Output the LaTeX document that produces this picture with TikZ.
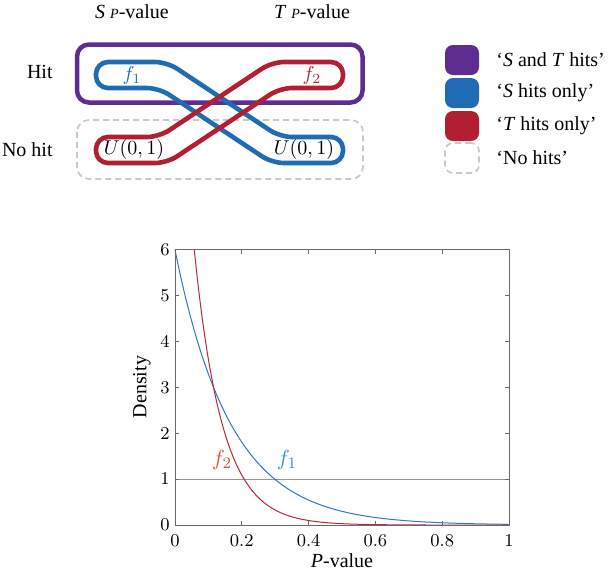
\documentclass[tikz,border=0pt]{standalone}
\usepackage[no-math]{fontspec}
\setmainfont{Liberation Serif}
\usepackage{tikz}

\definecolor{hitpurple}{RGB}{93,45,146}
\definecolor{hitblue}{RGB}{32,108,180}
\definecolor{hitred}{RGB}{178,30,50}
\definecolor{nohitgray}{RGB}{200,200,200}
\definecolor{curveblue}{RGB}{52,118,188}
\definecolor{curvered}{RGB}{186,40,58}
\definecolor{labelred}{RGB}{212,84,66}
\definecolor{labelblue}{RGB}{62,142,198}
\definecolor{axisgray}{RGB}{105,105,105}

\tikzset{
  bandline/.style={line width=2.3pt, rounded corners=6pt},
  legendbox/.style={minimum width=17pt, minimum height=15pt, rounded corners=4pt, inner sep=0pt},
  legendtext/.style={anchor=west, inner sep=0pt},
  ticklabel/.style={inner sep=0pt, font=\fontsize{9.5}{11}\selectfont}
}

\begin{document}
\begin{tikzpicture}[x=0.5pt,y=-0.5pt,font=\fontsize{10}{12}\selectfont]
\useasboundingbox (0,0) rectangle (614,570);

%column and row headings
\node (headS) at (132,12) {\textit{S} {\scriptsize\itshape P}-value};
\node (headT) at (312,12) {\textit{T} {\scriptsize\itshape P}-value};
\node[anchor=east,inner sep=0pt] (rowhit) at (53,72) {Hit};
\node[anchor=east,inner sep=0pt] (rownohit) at (53,150) {No hit};

%hit and no hit frames
\draw[hitpurple,line width=2.25pt,rounded corners=6pt] (77,44.5) rectangle (362.5,102.5);
\draw[nohitgray,line width=0.85pt,dash pattern=on 3pt off 2pt,rounded corners=6pt] (77,120) rectangle (363,179);

%S band and T band
\draw[hitblue,bandline] (130,62) -- (167,62) -- (280,137) -- (343,137) -- (343,163) -- (272,163) -- (159,88) -- (96,88) -- (96,62) -- (131,62);
\draw[hitred,bandline] (309,62) -- (272,62) -- (159,137) -- (96,137) -- (96,163) -- (167,163) -- (280,88) -- (343,88) -- (343,62) -- (308,62);

\node[hitblue] (bandf1) at (132,75) {$f_1$};
\node[hitred] (bandf2) at (312,75) {$f_2$};
\node (unifS) at (134,149) {$U(0,1)$};
\node (unifT) at (304,149) {$U(0,1)$};

%legend
\node[legendbox,fill=hitpurple] (legboth) at (462,60) {};
\node[legendbox,fill=hitblue] (legS) at (462,93) {};
\node[legendbox,fill=hitred] (legT) at (462,126) {};
\node[legendbox,draw=nohitgray,line width=0.85pt,dash pattern=on 3pt off 2pt] (legnone) at (462,158) {};
\node[legendtext] (txtboth) at (496,60) {`\textit{S} and \textit{T} hits'};
\node[legendtext] (txtS) at (496,93) {`\textit{S} hits only'};
\node[legendtext] (txtT) at (496,126) {`\textit{T} hits only'};
\node[legendtext] (txtnone) at (496,158) {`No hits'};

%density plot
\begin{scope}[shift={(175,525)},x=167pt,y=22.92pt]
\draw[axisgray!70,line width=0.6pt] (0,1) -- (1,1);
\draw[curveblue,line width=0.5pt,domain=0:1,samples=120,smooth] plot (\x,{6*exp(-6*\x)});
\draw[curvered,line width=0.5pt,domain=0.0578:1,samples=150,smooth] plot (\x,{12*exp(-12*\x)});
\draw[axisgray,line width=0.5pt] (0,0) rectangle (1,6);

\foreach \t [count=\i] in {0,0.2,0.4,0.6,0.8,1} {
  \draw[axisgray,line width=0.5pt] (\t,0) -- ++(0pt,2pt);
  \draw[axisgray,line width=0.5pt] (\t,6) -- ++(0pt,-2pt);
  \node[ticklabel,anchor=north,yshift=-4.5pt] (xt\i) at (\t,0) {$\t$};
}
\foreach \v in {0,...,6} {
  \draw[axisgray,line width=0.5pt] (0,\v) -- ++(2pt,0pt);
  \draw[axisgray,line width=0.5pt] (1,\v) -- ++(-2pt,0pt);
  \node[ticklabel,anchor=east,xshift=-2.5pt] (yt\v) at (0,\v) {$\v$};
}
\end{scope}

\node[rotate=90] (ylabel) at (142,387) {Density};
\node[inner sep=0pt] (xlabel) at (342,561) {\textit{P}-value};
\node[labelred,font=\fontsize{11}{13}\selectfont] (plotf2) at (222,460) {$f_2$};
\node[labelblue,font=\fontsize{11}{13}\selectfont] (plotf1) at (287,460) {$f_1$};

\end{tikzpicture}
\end{document}
